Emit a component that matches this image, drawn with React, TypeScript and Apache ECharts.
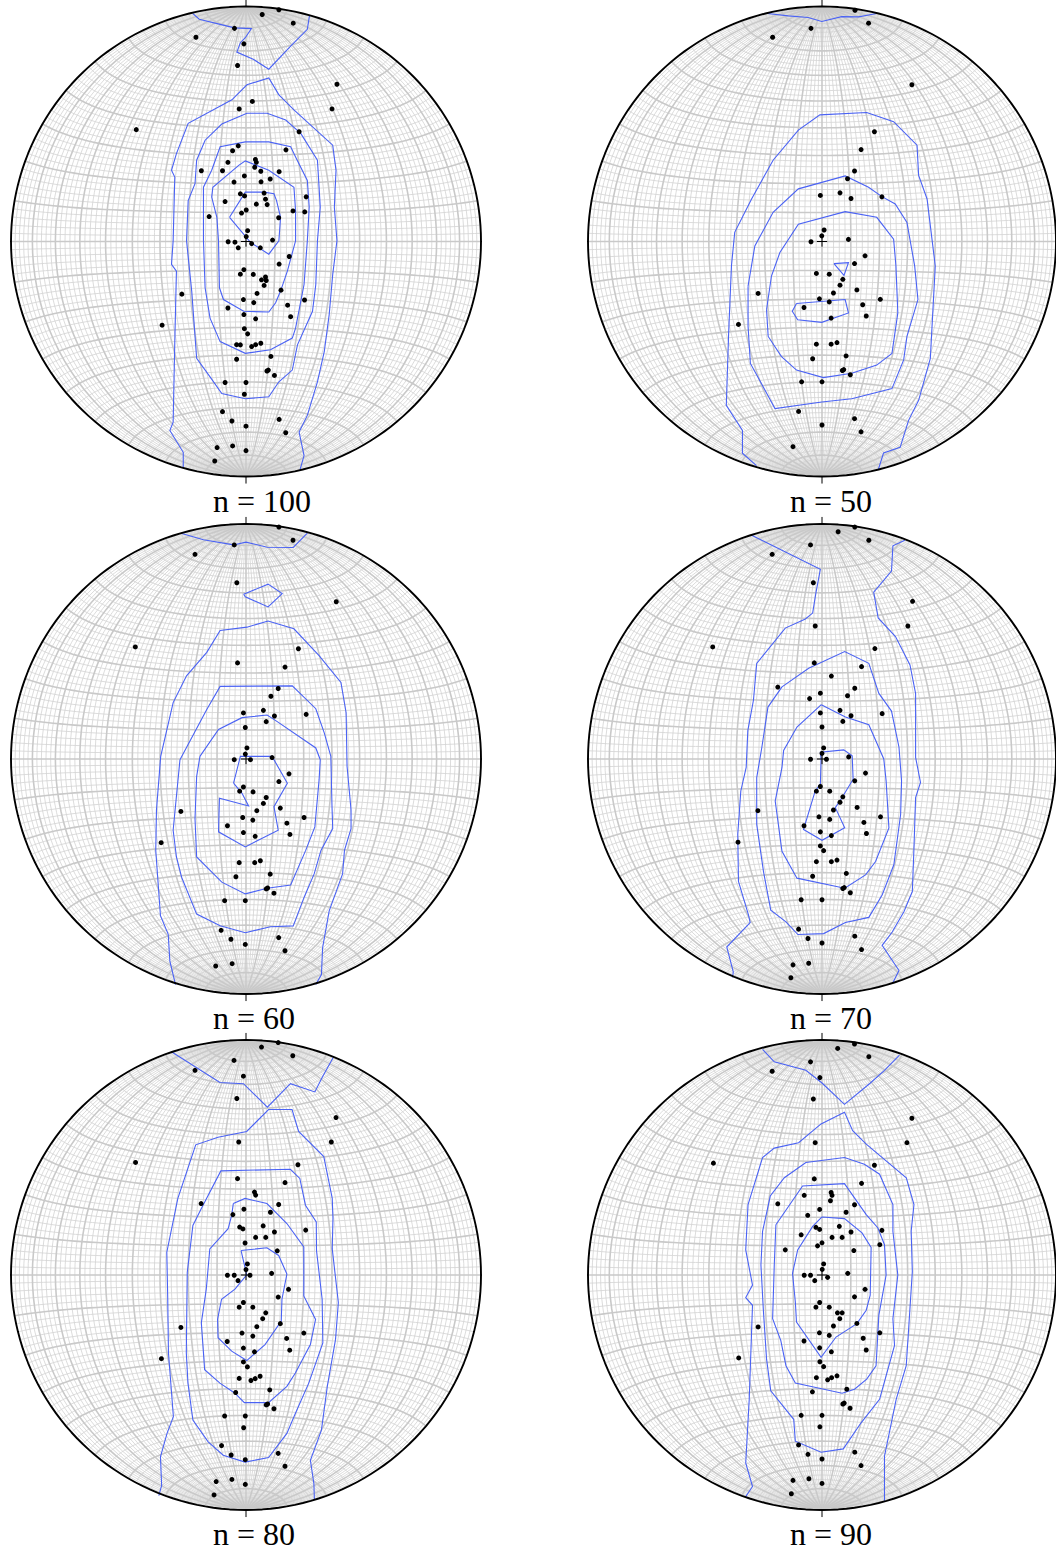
import React, { useEffect, useRef } from "react";
import * as echarts from "echarts";

type Pt = [number, number];

// ---------- layout ----------
const colCenters = [246, 823];
const rowCenters = [241.5, 759, 1275];
const netRadiusPx = 235;
const panelLabels = ["n = 100", "n = 50", "n = 60", "n = 70", "n = 80", "n = 90"];

// ---------- poles (equal-area projected coordinates, net radius = 100) ----------
const poles100: Pt[] = [
  [6.9, 96.6], [14.0, 98.6], [20.1, 92.9], [-4.9, 90.7], [-21.3, 86.9], [-0.9, 84.1], [-3.6, 74.9],
  [38.7, 66.9], [36.6, 56.4], [2.7, 59.6], [-2.9, 56.4], [-46.7, 47.6], [22.6, 46.7], [-3.3, 40.7],
  [-5.7, 38.6], [17.0, 39.0], [-7.7, 33.7], [4.0, 34.9], [4.4, 33.7], [3.7, 31.6], [-19.0, 30.1],
  [-10.0, 30.1], [6.3, 29.9], [14.1, 29.7], [-0.7, 27.9], [10.3, 26.6], [-5.1, 25.3], [6.4, 25.4],
  [-2.4, 20.3], [-0.6, 19.4], [7.7, 20.6], [25.6, 19.0], [-8.9, 17.0], [8.3, 18.0], [4.4, 15.9],
  [9.0, 15.7], [0.1, 13.4], [-1.9, 12.1], [20.0, 13.0], [25.0, 12.6], [-15.7, 10.6], [13.9, 10.1],
  [0.7, 4.6], [0.1, 2.1], [-7.6, -0.1], [-4.7, -0.3], [2.4, -0.9], [-3.3, -2.7], [6.1, -2.7],
  [11.3, 0.6], [18.4, -6.4], [14.1, -9.6], [-0.9, -12.0], [-2.4, -13.9], [3.1, -14.0], [6.6, -16.3],
  [8.3, -15.1], [8.6, -16.6], [7.7, -18.7], [14.9, -20.7], [-27.3, -22.4], [4.7, -22.1], [-1.1, -24.7],
  [3.3, -26.0], [24.9, -24.9], [17.7, -27.1], [-7.7, -28.3], [-0.9, -31.1], [19.0, -32.0], [4.1, -32.9],
  [-35.7, -35.6], [-0.7, -37.1], [0.7, -39.3], [-4.0, -43.9], [-2.4, -44.0], [2.4, -44.7], [4.1, -43.9],
  [6.3, -43.3], [10.6, -48.9], [-4.0, -50.1], [8.9, -55.1], [9.5, -54.7], [12.1, -57.0], [-8.9, -60.0],
  [0.0, -60.0], [-0.7, -65.0], [-10.0, -72.4], [-6.0, -76.4], [0.0, -78.6], [14.1, -75.7], [16.9, -81.4],
  [-12.3, -87.7], [-5.7, -87.0], [0.0, -89.0], [-13.3, -93.4],
];

const poles50: Pt[] = [
  [14.1, 98.4], [19.9, 92.9], [-4.7, 90.7], [-21.1, 86.9], [38.4, 66.7], [22.4, 46.7], [16.7, 39.1],
  [13.9, 30.0], [10.9, 26.7], [-0.7, 19.6], [7.7, 20.7], [12.4, 18.3], [25.6, 19.0], [0.9, 4.9],
  [-0.1, 2.4], [-4.7, -0.1], [11.3, 0.9], [18.4, -6.1], [13.9, -9.4], [-2.4, -13.6], [3.1, -13.9],
  [8.9, -16.1], [7.7, -18.6], [14.9, -20.6], [-27.3, -22.1], [4.9, -21.9], [-1.1, -24.4], [3.1, -25.7],
  [24.9, -24.6], [17.4, -26.9], [-7.7, -28.1], [18.9, -31.7], [3.9, -32.6], [-35.7, -35.3], [-2.4, -43.7],
  [3.9, -43.7], [6.4, -43.0], [10.3, -48.7], [-4.0, -49.9], [8.7, -54.9], [9.3, -54.5], [12.1, -56.7],
  [-8.7, -59.7], [0.0, -59.7], [-10.0, -72.3], [0.0, -78.1], [13.9, -75.4], [16.7, -81.0], [-12.4, -87.3],
];

const poles60: Pt[] = [
  [14.0, 98.7], [20.0, 93.1], [-5.0, 91.1], [-21.7, 87.1], [-3.9, 75.0], [38.4, 66.9], [-47.1, 47.7],
  [22.3, 46.9], [-3.6, 40.9], [16.6, 39.1], [13.7, 30.0], [10.6, 26.7], [-1.1, 19.6], [7.4, 20.7],
  [12.1, 18.3], [25.6, 19.0], [8.6, 15.9], [-0.3, 13.4], [0.4, 4.7], [-0.3, 2.1], [-5.0, -0.3],
  [1.9, -0.3], [11.1, 0.6], [18.3, -6.3], [14.0, -9.6], [-1.1, -11.9], [-2.7, -13.7], [3.0, -14.0],
  [8.6, -16.4], [7.4, -18.9], [14.6, -20.9], [-27.7, -22.3], [4.6, -22.0], [-1.4, -24.9], [2.9, -26.0],
  [24.7, -24.9], [17.4, -27.3], [-7.9, -28.4], [18.7, -32.1], [-1.1, -31.3], [3.9, -32.9], [-36.1, -35.6],
  [-2.9, -44.1], [3.7, -44.1], [6.1, -43.3], [10.3, -49.0], [-4.3, -50.1], [8.6, -55.3], [9.2, -54.9],
  [11.9, -57.1], [-9.1, -60.3], [-0.3, -60.3], [-10.6, -72.9], [-6.4, -76.7], [-0.3, -78.9], [13.9, -76.0],
  [16.6, -81.6], [-12.9, -88.1], [-5.9, -87.1],
];

const poles70: Pt[] = [
  [14.0, 98.7], [6.9, 96.7], [20.0, 93.1], [-4.9, 91.1], [-21.3, 87.1], [-3.7, 75.0], [38.7, 67.1],
  [36.7, 56.6], [-2.9, 56.6], [-46.7, 47.7], [22.6, 47.0], [-3.3, 40.9], [16.9, 39.3], [4.0, 35.3],
  [-18.9, 30.6], [14.0, 30.1], [-0.7, 28.0], [-5.3, 25.7], [10.9, 26.9], [-0.7, 19.6], [7.7, 20.7],
  [12.4, 18.4], [25.7, 19.3], [8.9, 16.0], [0.0, 13.6], [0.7, 4.7], [0.0, 2.4], [-4.9, -0.1],
  [1.9, -0.1], [11.4, 0.9], [18.6, -6.0], [14.0, -9.3], [-0.7, -11.7], [-2.4, -13.7], [3.3, -13.7],
  [8.9, -16.1], [7.7, -18.4], [15.0, -20.6], [-27.4, -22.0], [4.9, -21.7], [-1.3, -24.6], [3.3, -25.7],
  [25.0, -24.6], [17.9, -27.0], [-7.7, -28.4], [-0.7, -31.0], [4.0, -32.6], [19.0, -31.7], [-35.9, -35.4],
  [-0.7, -37.0], [0.7, -39.0], [-2.4, -43.7], [4.0, -43.7], [6.4, -43.0], [10.4, -48.7], [-4.0, -49.9],
  [8.9, -55.1], [9.5, -54.7], [12.1, -56.9], [-8.9, -59.9], [0.0, -59.9], [-10.0, -72.4], [-6.0, -76.4],
  [0.0, -78.3], [14.0, -75.4], [16.9, -81.1], [-12.4, -87.6], [-5.7, -86.9], [-13.3, -93.1],
];

const poles80: Pt[] = [
  [6.6, 97.0], [13.7, 98.9], [19.9, 93.3], [-5.1, 91.3], [-21.7, 87.1], [-1.1, 84.6], [-3.9, 75.1],
  [38.3, 67.0], [36.3, 56.6], [-3.1, 56.6], [-47.0, 47.9], [22.1, 46.9], [-3.6, 41.0], [16.6, 39.3],
  [3.6, 35.3], [4.1, 34.0], [-19.1, 30.4], [13.9, 30.0], [-0.9, 28.0], [-5.6, 25.7], [10.4, 26.7],
  [-2.7, 20.4], [-1.3, 19.6], [7.3, 20.9], [12.1, 18.3], [25.4, 19.1], [4.1, 16.0], [8.4, 16.0],
  [-0.4, 13.6], [13.3, 10.3], [0.6, 4.7], [0.0, 2.3], [-7.9, -0.1], [-5.0, -0.1], [1.7, -0.1],
  [-3.4, -2.4], [10.9, 0.7], [18.1, -6.1], [13.7, -9.4], [-1.1, -11.7], [-2.9, -13.7], [2.9, -13.7],
  [8.4, -16.1], [7.1, -18.6], [14.6, -20.7], [-27.7, -22.3], [4.6, -22.0], [-1.7, -24.7], [2.9, -26.0],
  [24.6, -24.7], [17.3, -27.0], [-8.0, -28.3], [18.6, -32.0], [-1.1, -31.1], [3.6, -32.7], [-36.0, -35.6],
  [-1.1, -37.0], [0.6, -39.1], [-2.9, -44.0], [2.1, -44.9], [3.9, -44.1], [6.0, -43.1], [10.1, -48.9],
  [-4.4, -50.0], [8.6, -55.3], [9.2, -54.9], [11.9, -56.9], [-9.1, -60.0], [-0.3, -60.0], [-1.0, -65.0],
  [-10.4, -72.6], [-6.3, -76.6], [-0.3, -78.6], [13.7, -75.9], [16.6, -81.4], [-12.7, -87.9], [-6.0, -87.0],
  [-0.3, -89.1], [-13.6, -93.6],
];

const poles90: Pt[] = [
  [6.7, 96.4], [13.9, 98.3], [20.0, 92.9], [-4.9, 90.7], [-21.3, 86.7], [-0.9, 84.0], [-3.7, 74.9],
  [38.4, 66.7], [36.3, 56.3], [-2.9, 56.3], [-46.4, 47.6], [22.4, 46.7], [-3.3, 40.9], [16.9, 39.0],
  [3.9, 35.1], [4.3, 33.9], [-7.6, 33.9], [-18.9, 30.3], [13.9, 29.9], [3.6, 31.6], [-1.0, 27.9],
  [-6.1, 25.4], [10.3, 26.7], [-2.6, 20.3], [-1.0, 19.4], [7.4, 20.7], [12.4, 18.3], [25.6, 19.0],
  [-8.9, 17.1], [4.3, 16.0], [8.6, 16.0], [0.0, 13.7], [-1.9, 12.4], [24.7, 12.9], [-15.7, 10.7],
  [13.6, 10.4], [0.7, 4.7], [0.1, 2.4], [-7.6, -0.1], [-4.9, -0.1], [2.4, -1.0], [-3.1, -2.4],
  [11.0, 0.7], [18.4, -6.1], [13.9, -9.3], [-1.0, -11.7], [-2.6, -13.7], [3.1, -13.7], [6.6, -16.1],
  [8.6, -16.1], [7.6, -18.6], [14.9, -20.6], [-27.3, -22.1], [4.9, -21.7], [-1.1, -24.6], [3.1, -25.7],
  [24.7, -24.6], [17.6, -26.9], [-7.7, -28.1], [-1.0, -31.0], [4.0, -32.7], [18.9, -31.9], [-35.6, -35.3],
  [-0.9, -36.9], [0.7, -39.0], [-2.4, -43.7], [2.4, -44.6], [4.1, -43.7], [6.4, -42.9], [10.6, -48.6],
  [-4.1, -49.7], [8.9, -54.9], [9.5, -54.5], [12.0, -56.7], [-8.9, -59.7], [0.0, -59.7], [-0.9, -64.6],
  [-10.0, -72.3], [-6.0, -76.3], [0.0, -78.3], [14.0, -75.4], [16.7, -81.1], [-12.4, -87.4], [-5.6, -86.7],
  [0.0, -88.7], [-13.1, -93.1],
];

// ---------- density contours (open ones end on the primitive circle) ----------
const c100Top: Pt[] = [[-22.7, 97.1], [-19.9, 94.6], [-11.0, 92.4], [-4.9, 90.9], [2.3, 90.6], [-0.3, 86.7], [-2.4, 84.6], [-3.9, 80.6], [3.3, 77.4], [9.7, 73.3], [19.0, 83.1], [26.1, 90.3], [27.0, 96.0]];
const c100Outer: Pt[] = [[-26.7, -96.3], [-26.7, -89.7], [-32.4, -80.4], [-31.0, -76.9], [-30.3, -42.6], [-29.6, -12.6], [-31.7, -9.7], [-31.0, 0.3], [-30.3, 27.4], [-31.7, 30.3], [-29.6, 37.4], [-24.6, 50.3], [-6.0, 60.3], [0.4, 66.7], [9.7, 69.6], [14.0, 62.4], [20.4, 56.0], [36.9, 41.0], [38.3, 30.3], [37.6, 14.6], [38.7, 0.3], [36.9, -14.0], [35.4, -31.1], [33.3, -46.9], [30.4, -59.7], [26.1, -74.0], [22.6, -81.1], [24.7, -91.1], [23.0, -97.1]];
const c100L2: Pt[] = [[-25.3, 0.3], [-24.6, 17.4], [-21.7, 24.6], [-21.0, 34.6], [-17.4, 43.1], [-10.3, 50.0], [0.4, 54.6], [9.0, 54.6], [16.9, 51.7], [23.3, 46.0], [30.4, 34.6], [31.6, 14.6], [30.4, 0.3], [29.7, -18.3], [28.3, -29.7], [21.9, -44.0], [19.7, -54.7], [14.0, -59.7], [9.7, -66.1], [-0.3, -66.9], [-10.3, -64.7], [-15.3, -57.6], [-21.0, -49.7], [-23.1, -21.1]];
const c100L3: Pt[] = [[-18.1, 0.3], [-18.1, 23.1], [-14.6, 30.3], [-11.0, 40.3], [-0.3, 42.4], [9.7, 42.4], [19.0, 40.3], [21.1, 36.0], [26.1, 26.0], [26.9, 14.6], [26.1, 0.3], [24.7, -18.3], [21.1, -36.9], [19.7, -41.1], [10.4, -46.1], [-0.3, -47.6], [-11.0, -42.6], [-15.3, -32.6], [-17.4, -19.7]];
const c100L4: Pt[] = [[-11.7, 0.3], [-12.4, 10.3], [-14.6, 18.9], [-14.1, 23.1], [-3.1, 32.4], [-0.3, 34.3], [9.7, 30.3], [20.4, 23.1], [21.1, 13.1], [21.1, 0.3], [17.6, -12.6], [14.7, -21.1], [12.6, -26.1], [9.7, -30.0], [-1.0, -29.7], [-9.6, -24.7], [-11.3, -19.7]];
const c100L5: Pt[] = [[-7.0, 10.3], [-0.3, 21.0], [7.6, 21.0], [11.9, 20.3], [13.0, 17.4], [14.7, 10.3], [14.0, 0.3], [9.7, -5.4], [1.9, -0.4]];

const c50Top: Pt[] = [[-23.3, 97.0], [-14.4, 96.0], [-5.9, 95.3], [-0.1, 93.6], [8.4, 95.7], [15.6, 95.6], [23.4, 97.0]];
const c50Outer: Pt[] = [[-28.0, -95.4], [-34.0, -90.1], [-34.0, -80.4], [-40.9, -69.7], [-39.9, -39.0], [-38.7, -10.4], [-37.3, 3.9], [-30.1, 18.1], [-20.9, 34.6], [-10.1, 47.4], [-0.9, 53.9], [19.1, 54.9], [30.6, 51.0], [40.6, 41.0], [41.3, 28.1], [44.9, 18.1], [48.4, -10.4], [46.3, -49.7], [41.3, -67.6], [37.0, -76.1], [33.4, -87.6], [26.3, -90.0], [24.1, -96.9]];
const c50L2: Pt[] = [[-31.6, -19.0], [-31.6, -36.1], [-30.6, -51.9], [-25.9, -60.4], [-20.1, -71.1], [-0.1, -68.3], [12.7, -66.9], [29.9, -62.6], [34.9, -50.4], [36.3, -40.4], [41.0, -24.7], [39.6, -10.4], [36.3, 8.1], [31.3, 16.0], [25.6, 19.1], [19.9, 23.1], [9.9, 27.9], [-10.1, 22.4], [-20.9, 12.4], [-28.7, -1.9]];
const c50L3: Pt[] = [[-23.7, -29.0], [-23.0, -40.4], [-17.3, -49.0], [-10.9, -54.7], [0.6, -57.9], [12.7, -56.1], [23.4, -52.6], [29.9, -47.6], [32.4, -30.4], [31.6, -10.4], [30.6, 1.0], [23.4, 10.3], [9.9, 12.7], [-10.1, 7.4], [-18.0, -4.7], [-21.6, -14.7]];
const c50L4a: Pt[] = [[5.1, -9.4], [11.3, -9.0], [9.4, -14.4]];
const c50L4b: Pt[] = [[-10.9, -26.4], [9.9, -24.7], [11.3, -30.4], [7.0, -31.9], [-0.1, -34.4], [-10.4, -33.3], [-12.7, -29.7]];

const c60Top: Pt[] = [[-27.7, 96.1], [-18.1, 93.3], [-5.3, 91.1], [0.0, 92.3], [9.0, 90.1], [20.1, 90.0], [26.1, 96.1]];
const c60Blob: Pt[] = [[-1.0, 70.1], [9.4, 74.4], [15.4, 70.4], [9.4, 64.7], [-0.3, 69.0]];
const c60Outer: Pt[] = [[-30.0, -96.0], [-32.4, -86.0], [-33.1, -74.6], [-36.4, -66.7], [-38.4, -38.9], [-38.1, -21.7], [-36.3, 1.1], [-31.0, 24.0], [-25.3, 35.4], [-16.7, 45.4], [-11.0, 54.7], [0.4, 56.1], [9.4, 58.7], [20.4, 55.4], [31.1, 44.0], [40.4, 32.6], [42.6, 19.7], [43.0, -3.1], [44.7, -21.7], [44.7, -29.6], [41.9, -38.9], [41.1, -48.9], [35.4, -64.6], [32.6, -80.3], [32.1, -91.7], [29.7, -96.0]];
const c60L2: Pt[] = [[-28.1, -0.3], [-16.7, 21.1], [-11.0, 30.9], [19.7, 31.1], [29.7, 21.4], [33.3, 11.1], [36.1, 1.1], [36.6, -20.3], [36.9, -29.6], [31.9, -38.9], [29.0, -48.9], [24.7, -58.9], [20.1, -71.0], [10.4, -71.4], [-0.3, -73.9], [-11.0, -71.0], [-21.0, -66.0], [-27.4, -50.3], [-29.6, -41.7], [-31.0, -30.3]];
const c60L3: Pt[] = [[-19.6, 1.1], [-11.7, 12.6], [-1.7, 17.6], [9.0, 18.7], [13.3, 15.9], [29.7, 4.7], [31.6, -0.3], [31.1, -8.9], [29.3, -28.9], [25.4, -38.9], [19.0, -53.6], [9.0, -55.0], [-0.3, -57.4], [-10.3, -52.4], [-21.0, -41.7], [-21.7, -25.3], [-21.0, -7.4]];
const c60L4: Pt[] = [[-5.3, -10.3], [-2.4, 1.1], [11.1, 1.1], [17.6, -10.3], [11.9, -20.3], [13.7, -30.3], [-0.3, -37.4], [-11.7, -31.0], [-11.3, -16.7], [1.1, -20.0], [-1.7, -14.6]];

const c70Left: Pt[] = [[-30.3, 95.3], [-0.7, 80.7], [-2.6, 70.7], [-4.0, 62.1], [-7.1, 59.6], [-15.7, 55.7], [-27.9, 40.7], [-29.3, 25.0], [-31.7, 12.1], [-32.4, -3.6], [-34.7, -13.6], [-36.0, -32.1], [-35.7, -52.1], [-31.4, -66.4], [-30.7, -69.6], [-40.7, -80.0], [-37.9, -90.7], [-38.3, -92.9]];
const c70Right: Pt[] = [[35.4, 93.1], [30.3, 90.7], [29.7, 80.0], [22.1, 71.0], [24.0, 60.0], [31.4, 52.1], [37.6, 40.0], [40.0, 27.9], [40.0, 0.7], [42.1, -10.0], [40.0, -16.4], [39.3, -37.9], [38.6, -56.4], [35.0, -65.0], [30.0, -73.6], [25.7, -79.3], [32.9, -90.0], [30.4, -95.0]];
const c70L2: Pt[] = [[-17.1, 30.7], [-5.7, 38.6], [9.7, 45.7], [20.0, 40.7], [24.3, 27.9], [29.7, 20.4], [32.9, 5.0], [34.0, -9.3], [33.6, -23.6], [30.7, -45.0], [25.7, -57.9], [20.0, -67.4], [10.0, -69.6], [0.7, -74.3], [-10.3, -74.7], [-15.4, -69.3], [-21.9, -64.3], [-25.0, -47.9], [-27.9, -27.9], [-27.9, -7.9], [-25.7, 5.0], [-23.1, 22.1]];
const c70L3: Pt[] = [[-0.3, 23.1], [10.0, 17.9], [20.0, 14.6], [26.4, 0.0], [27.4, -9.3], [28.6, -29.3], [22.9, -43.6], [18.6, -49.3], [9.7, -55.0], [-10.7, -50.7], [-17.1, -39.3], [-20.0, -17.9], [-17.1, -3.6], [-16.4, 3.6], [-10.7, 13.6]];
const c70L4: Pt[] = [[-0.4, 0.0], [-0.7, 2.9], [9.3, 3.9], [12.9, 1.4], [13.3, -8.6], [8.6, -16.4], [5.7, -20.7], [9.7, -29.3], [0.0, -34.6], [-7.9, -30.0], [-2.9, -13.6], [-0.7, -10.7]];

const c80Top: Pt[] = [[-31.9, 95.1], [-11.1, 81.9], [-1.1, 81.4], [9.1, 71.4], [18.9, 81.4], [29.3, 77.9], [32.4, 84.0], [37.1, 92.6]];
const c80Outer: Pt[] = [[-37.1, -93.9], [-35.9, -89.6], [-36.4, -77.4], [-33.6, -67.4], [-30.9, -60.3], [-33.0, -33.1], [-33.3, -10.3], [-33.7, 9.7], [-29.0, 32.6], [-21.4, 55.4], [-11.9, 58.6], [0.3, 61.1], [9.6, 70.4], [19.6, 70.4], [22.4, 61.1], [33.1, 50.4], [36.7, 32.6], [37.0, 24.0], [36.7, 11.1], [39.3, -11.7], [38.1, -27.4], [34.6, -47.4], [32.1, -66.0], [27.4, -78.9], [28.9, -88.9], [29.1, -95.7]];
const c80L2: Pt[] = [[-25.4, -33.1], [-24.7, -46.0], [-22.6, -61.7], [-16.1, -71.0], [-9.7, -76.7], [-0.4, -79.6], [9.6, -77.7], [17.4, -67.4], [21.0, -58.9], [26.7, -46.0], [32.7, -28.9], [32.4, -10.3], [30.0, 10.4], [29.9, 22.6], [25.3, 29.7], [22.9, 41.1], [18.9, 45.0], [-10.7, 44.3], [-19.0, 28.3], [-22.6, 21.1], [-25.0, 1.1]];
const c80L3: Pt[] = [[-5.4, 30.4], [-0.4, 32.6], [8.9, 30.4], [17.4, 21.9], [24.6, 11.9], [24.6, -8.9], [29.6, -18.9], [27.4, -29.6], [21.0, -41.7], [17.4, -47.4], [9.6, -54.3], [-0.7, -54.3], [-4.7, -50.3], [-11.1, -46.0], [-17.6, -40.3], [-19.0, -20.3], [-16.9, -6.0], [-15.4, 11.1], [-7.6, 19.7], [-6.1, 25.4]];
const c80L4: Pt[] = [[-2.1, 10.4], [8.9, 11.6], [13.9, 8.3], [17.4, 0.4], [15.3, -10.3], [15.0, -19.6], [8.1, -29.6], [0.3, -36.4], [-6.1, -32.4], [-11.9, -26.7], [-12.1, -18.9], [-10.4, -10.3], [-4.7, -6.0], [0.3, 0.1]];

const c90Top: Pt[] = [[-25.4, 96.0], [-20.4, 90.7], [-6.9, 87.1], [0.0, 81.7], [9.6, 72.6], [20.3, 81.4], [26.7, 87.1], [33.1, 93.6]];
const c90Outer: Pt[] = [[-32.6, -94.3], [-29.7, -90.0], [-32.6, -80.0], [-31.1, -52.9], [-29.7, -12.9], [-32.6, -9.6], [-29.7, -4.3], [-32.6, 10.7], [-31.6, 30.0], [-25.4, 50.0], [-20.4, 54.0], [-10.0, 56.3], [-0.4, 64.3], [9.6, 69.3], [13.1, 61.4], [18.9, 55.7], [36.0, 41.4], [39.3, 30.0], [38.1, 18.6], [38.6, 1.4], [37.4, -17.1], [36.0, -38.6], [31.7, -52.9], [26.7, -77.1], [26.7, -96.1]];
const c90L2: Pt[] = [[-25.4, 18.6], [-26.1, 4.3], [-25.1, -14.3], [-23.7, -35.7], [-21.9, -49.3], [-12.1, -61.4], [-11.4, -70.7], [-0.4, -75.4], [9.1, -74.0], [16.7, -62.9], [24.6, -52.9], [31.0, -30.0], [30.3, -18.6], [32.4, 0.0], [30.3, 18.6], [30.3, 30.0], [24.6, 42.9], [18.1, 47.1], [9.6, 50.0], [-6.9, 47.9], [-16.1, 41.4], [-22.1, 33.6]];
const c90L3: Pt[] = [[-19.7, 21.4], [-8.3, 37.9], [9.6, 38.9], [18.9, 25.7], [23.9, 20.0], [26.7, 12.9], [27.4, 0.0], [24.3, -17.1], [23.1, -38.6], [19.1, -44.3], [13.9, -48.6], [8.6, -50.3], [-11.4, -46.0], [-15.4, -38.6], [-17.6, -27.9], [-21.1, -18.6], [-20.4, 4.3]];
const c90L4: Pt[] = [[0.0, 24.7], [9.6, 24.0], [17.1, 17.9], [21.0, 11.7], [20.6, -8.6], [18.9, -15.0], [14.9, -20.7], [6.0, -26.4], [-0.4, -35.0], [-10.9, -20.0], [-11.4, -11.4], [-12.6, 0.7], [-10.4, 10.7], [-4.0, 20.7]];

const panels = [
  { label: panelLabels[0], poles: poles100, open: [c100Top, c100Outer], closed: [c100L2, c100L3, c100L4, c100L5] },
  { label: panelLabels[1], poles: poles50, open: [c50Top, c50Outer], closed: [c50L2, c50L3, c50L4a, c50L4b] },
  { label: panelLabels[2], poles: poles60, open: [c60Top, c60Outer], closed: [c60Blob, c60L2, c60L3, c60L4] },
  { label: panelLabels[3], poles: poles70, open: [c70Left, c70Right], closed: [c70L2, c70L3, c70L4] },
  { label: panelLabels[4], poles: poles80, open: [c80Top, c80Outer], closed: [c80L2, c80L3, c80L4] },
  { label: panelLabels[5], poles: poles90, open: [c90Top, c90Outer], closed: [c90L2, c90L3, c90L4] },
];

// ---------- equal-area (Schmidt) net geometry ----------
function buildNet() {
  const d = Math.PI / 180;
  const fine: Pt[][] = [];
  const bold: Pt[][] = [];
  const proj = (x: number, y: number, z: number): Pt => {
    const k = 100 / Math.sqrt(1 - z);
    return [x * k, y * k];
  };
  for (let a = -88; a <= 88; a += 2) {
    const line: Pt[] = [];
    for (let t = 0; t <= 180; t += 3) {
      line.push(proj(Math.sin(t * d) * Math.sin(a * d), Math.cos(t * d), -Math.sin(t * d) * Math.cos(a * d)));
    }
    (a % 10 === 0 ? bold : fine).push(line);
  }
  for (let b = 2; b <= 178; b += 2) {
    const line: Pt[] = [];
    for (let p = 0; p <= 180; p += 3) {
      line.push(proj(Math.sin(b * d) * Math.cos(p * d), Math.cos(b * d), -Math.sin(b * d) * Math.sin(p * d)));
    }
    (b % 10 === 0 ? bold : fine).push(line);
  }
  const circle: Pt[] = [];
  for (let i = 0; i <= 360; i += 2) circle.push([100 * Math.cos(i * d), 100 * Math.sin(i * d)]);
  return { fine, bold, circle };
}

const ring = (pts: Pt[]): Pt[] => [...pts, pts[0]];

export default function App() {
  const ref = useRef<HTMLDivElement>(null);
  useEffect(() => {
    document.body.style.margin = "0";
    if (!ref.current) return;
    const chart = echarts.init(ref.current, undefined, { renderer: "svg" });
    const net = buildNet();
    const grids: any[] = [];
    const xAxes: any[] = [];
    const yAxes: any[] = [];
    const series: any[] = [];
    const graphics: any[] = [];
    panels.forEach((p, i) => {
      const cx = colCenters[i % 2];
      const cy = rowCenters[Math.floor(i / 2)];
      grids.push({ left: cx - netRadiusPx, top: cy - netRadiusPx, width: 2 * netRadiusPx, height: 2 * netRadiusPx, containLabel: false });
      xAxes.push({ type: "value", gridIndex: i, min: -100, max: 100, show: false });
      yAxes.push({ type: "value", gridIndex: i, min: -100, max: 100, show: false });
      const base = { xAxisIndex: i, yAxisIndex: i, silent: true, animation: false };
      series.push({
        ...base, type: "lines", coordinateSystem: "cartesian2d", polyline: true, z: 1,
        lineStyle: { color: "#d3d3d3", width: 0.8, opacity: 1 },
        data: net.fine.map((c) => ({ coords: c })),
      });
      series.push({
        ...base, type: "lines", coordinateSystem: "cartesian2d", polyline: true, z: 2,
        lineStyle: { color: "#c9c9c9", width: 1.6, opacity: 1 },
        data: net.bold.map((c) => ({ coords: c })),
      });
      series.push({
        ...base, type: "lines", coordinateSystem: "cartesian2d", polyline: true, z: 3,
        lineStyle: { color: "#4a62f4", width: 1.1, opacity: 1 },
        data: [...p.open.map((c) => ({ coords: c })), ...p.closed.map((c) => ({ coords: ring(c) }))],
      });
      series.push({
        ...base, type: "line", z: 4, clip: false, showSymbol: false, symbol: "none",
        lineStyle: { color: "#000", width: 1.9 },
        data: net.circle,
      });
      const ticks: Pt[][] = [[[0, 100], [0, 103]], [[0, -100], [0, -103]], [[100, 0], [103, 0]], [[-100, 0], [-103, 0]]];
      ticks.forEach((t) => {
        series.push({ ...base, type: "line", z: 4, clip: false, showSymbol: false, symbol: "none", lineStyle: { color: "#000", width: 1 }, data: t });
      });
      series.push({
        ...base, type: "lines", coordinateSystem: "cartesian2d", polyline: true, z: 6,
        lineStyle: { color: "#000", width: 1, opacity: 1 },
        data: [{ coords: [[-2.2, 0], [2.2, 0]] }, { coords: [[0, -2.2], [0, 2.2]] }],
      });
      series.push({
        ...base, type: "scatter", z: 5, symbol: "circle", symbolSize: 5,
        itemStyle: { color: "#000", opacity: 1 },
        data: p.poles,
      });
      graphics.push({
        type: "text", x: cx - 33, y: cy + 259, silent: true,
        style: { text: p.label, fontFamily: "Liberation Serif", fontSize: 32, fill: "#000", align: "left", verticalAlign: "middle" },
      });
    });
    chart.setOption({
      animation: false,
      backgroundColor: "#ffffff",
      grid: grids,
      xAxis: xAxes,
      yAxis: yAxes,
      series,
      graphic: graphics,
    });
    return () => chart.dispose();
  }, []);
  return <div ref={ref} style={{ position: "absolute", left: 0, top: 0, width: 1056, height: 1552 }} />;
}
